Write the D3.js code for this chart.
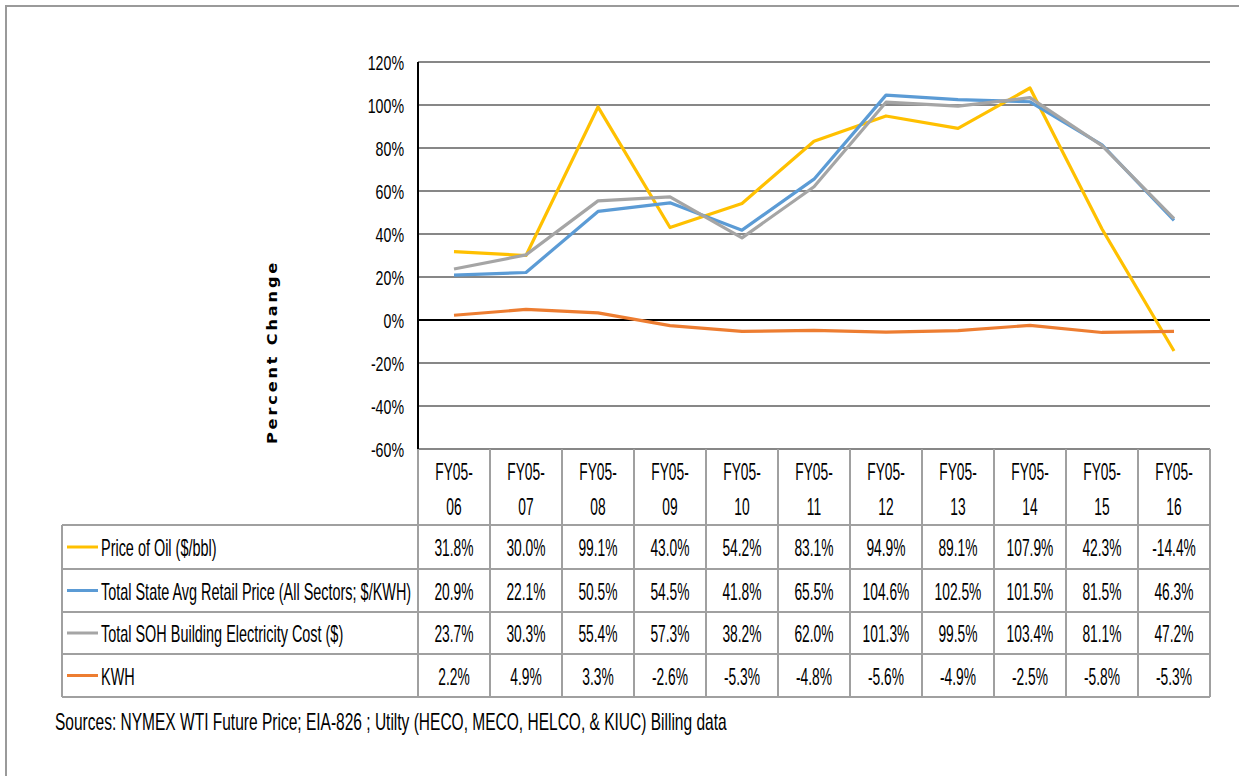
<!DOCTYPE html>
<html>
<head>
<meta charset="utf-8">
<script src="https://cdn.jsdelivr.net/npm/d3@7"></script>
<style>
  body { margin: 0; background: #fff; }
  text { font-family: "Liberation Sans", Arial, sans-serif; fill: #000; }
</style>
</head>
<body>
<div id="chart"></div>
<script>
// Fiscal year comparisons (change since FY05)
const categories = ["FY05-06", "FY05-07", "FY05-08", "FY05-09", "FY05-10", "FY05-11",
  "FY05-12", "FY05-13", "FY05-14", "FY05-15", "FY05-16"];

const priceOfOil = [31.8, 30.0, 99.1, 43.0, 54.2, 83.1, 94.9, 89.1, 107.9, 42.3, -14.4];
const retailPrice = [20.9, 22.1, 50.5, 54.5, 41.8, 65.5, 104.6, 102.5, 101.5, 81.5, 46.3];
const electricityCost = [23.7, 30.3, 55.4, 57.3, 38.2, 62.0, 101.3, 99.5, 103.4, 81.1, 47.2];
const kwh = [2.2, 4.9, 3.3, -2.6, -5.3, -4.8, -5.6, -4.9, -2.5, -5.8, -5.3];

const seriesNames = ["Price of Oil ($/bbl)", "Total State Avg Retail Price (All Sectors; $/KWH)",
  "Total SOH Building Electricity Cost ($)", "KWH"];
const seriesColors = ["#ffc000", "#5b9bd5", "#a5a5a5", "#ed7d31"];

const yTicks = [-60, -40, -20, 0, 20, 40, 60, 80, 100, 120];
const sourceNote = "Sources: NYMEX WTI Future Price; EIA-826 ; Utilty (HECO, MECO, HELCO, & KIUC) Billing data";

const series = [priceOfOil, retailPrice, electricityCost, kwh].map(function(values, i) {
  return {name: seriesNames[i], color: seriesColors[i], values: values};
});

const width = 1239, height = 776;
const plot = {left: 418, right: 1210, top: 62, bottom: 449};
// table row boundaries (header row + one row per series)
const rowEdges = [449, 525, 569, 612, 654, 697];
const legendLeft = 62;

// the original uses a tall, condensed face; squeeze a regular one horizontally
const tableFont = 23, textSqueeze = 0.628, numSqueeze = 0.6;
const tickFont = 20, tickSqueeze = 0.71;

const svg = d3.select("#chart").append("svg")
  .attr("width", width)
  .attr("height", height);

// adds a condensed text at (x, y)
function label(parent, x, y, str, anchor, squeeze) {
  return parent.append("text")
    .attr("transform", "translate(" + x + "," + y + ") scale(" + squeeze + ",1)")
    .style("text-anchor", anchor)
    .style("font-size", tableFont + "px")
    .text(str);
}

// outer frame
svg.append("rect")
  .attr("x", 6).attr("y", 6)
  .attr("width", width + 10).attr("height", height + 10)
  .style("fill", "none")
  .style("stroke", "#9a9a9a")
  .style("stroke-width", 2);

const x = d3.scaleBand().domain(categories).range([plot.left, plot.right]);
const y = d3.scaleLinear().domain([-60, 120]).range([plot.bottom, plot.top]);

// horizontal gridlines
svg.append("g")
  .selectAll("line")
  .data(yTicks.filter(d => d !== 0))
  .join("line")
  .attr("x1", plot.left).attr("x2", plot.right)
  .attr("y1", d => y(d)).attr("y2", d => y(d))
  .style("stroke", "#878787")
  .style("stroke-width", 2);

// y axis labels
const yAxis = svg.append("g")
  .attr("transform", "translate(" + plot.left + ",0)")
  .call(d3.axisLeft(y).tickValues(yTicks).tickSize(0).tickPadding(14 / tickSqueeze).tickFormat(d => d + "%"));
yAxis.select(".domain").remove();
yAxis.selectAll("text")
  .attr("transform", "scale(" + tickSqueeze + ",1)")
  .style("font-family", "'Liberation Sans', Arial, sans-serif")
  .style("font-size", tickFont + "px")
  .attr("dy", "0.36em");

// zero line and left axis line
svg.append("line")
  .attr("x1", plot.left).attr("x2", plot.right)
  .attr("y1", y(0)).attr("y2", y(0))
  .style("stroke", "#000").style("stroke-width", 2);
svg.append("line")
  .attr("x1", plot.left).attr("x2", plot.left)
  .attr("y1", plot.top).attr("y2", plot.bottom)
  .style("stroke", "#000").style("stroke-width", 2);

// axis title
svg.append("text")
  .attr("transform", "translate(277,352) rotate(-90) scale(1.15,1)")
  .style("text-anchor", "middle")
  .style("font-family", "'DejaVu Sans', sans-serif")
  .style("font-weight", "bold")
  .style("font-size", "14px")
  .style("letter-spacing", "2.5px")
  .text("Percent Change");

// series lines
const line = d3.line()
  .x((d, i) => x(categories[i]) + x.bandwidth() / 2)
  .y(d => y(d));

svg.append("g")
  .selectAll("path")
  .data(series)
  .join("path")
  .attr("d", d => line(d.values))
  .style("fill", "none")
  .style("stroke", d => d.color)
  .style("stroke-width", 3.2)
  .style("stroke-linejoin", "round");

// data table
const table = svg.append("g");
const gridStyle = sel => sel.style("stroke", "#a0a0a0").style("stroke-width", 2);

// vertical column lines
table.selectAll("line.col")
  .data(categories.map(c => x(c)).concat([plot.right]))
  .join("line")
  .attr("class", "col")
  .attr("x1", d => d).attr("x2", d => d)
  .attr("y1", rowEdges[0]).attr("y2", rowEdges[rowEdges.length - 1])
  .call(gridStyle);

// legend column left edge
table.append("line")
  .attr("x1", legendLeft).attr("x2", legendLeft)
  .attr("y1", rowEdges[1]).attr("y2", rowEdges[rowEdges.length - 1])
  .call(gridStyle);

// horizontal row lines
table.selectAll("line.row")
  .data(rowEdges.slice(1))
  .join("line")
  .attr("class", "row")
  .attr("x1", legendLeft).attr("x2", plot.right)
  .attr("y1", d => d).attr("y2", d => d)
  .call(gridStyle);

// category header, split over two lines
categories.forEach(function(c) {
  const cx = x(c) + x.bandwidth() / 2;
  label(table, cx, 480, c.slice(0, 5), "middle", numSqueeze);
  label(table, cx, 515, c.slice(5), "middle", numSqueeze);
});

// series rows
series.forEach(function(s, i) {
  const cy = (rowEdges[i + 1] + rowEdges[i + 2]) / 2;
  const row = table.append("g");
  row.append("line")
    .attr("x1", 67).attr("x2", 98)
    .attr("y1", cy).attr("y2", cy)
    .style("stroke", s.color)
    .style("stroke-width", 3);
  label(row, 101, cy + 9, s.name, "start", textSqueeze);
  s.values.forEach(function(v, j) {
    label(row, x(categories[j]) + x.bandwidth() / 2, cy + 9, v.toFixed(1) + "%", "middle", numSqueeze);
  });
});

// source note
label(svg, 55, 730, sourceNote, "start", 0.675);
</script>
</body>
</html>
